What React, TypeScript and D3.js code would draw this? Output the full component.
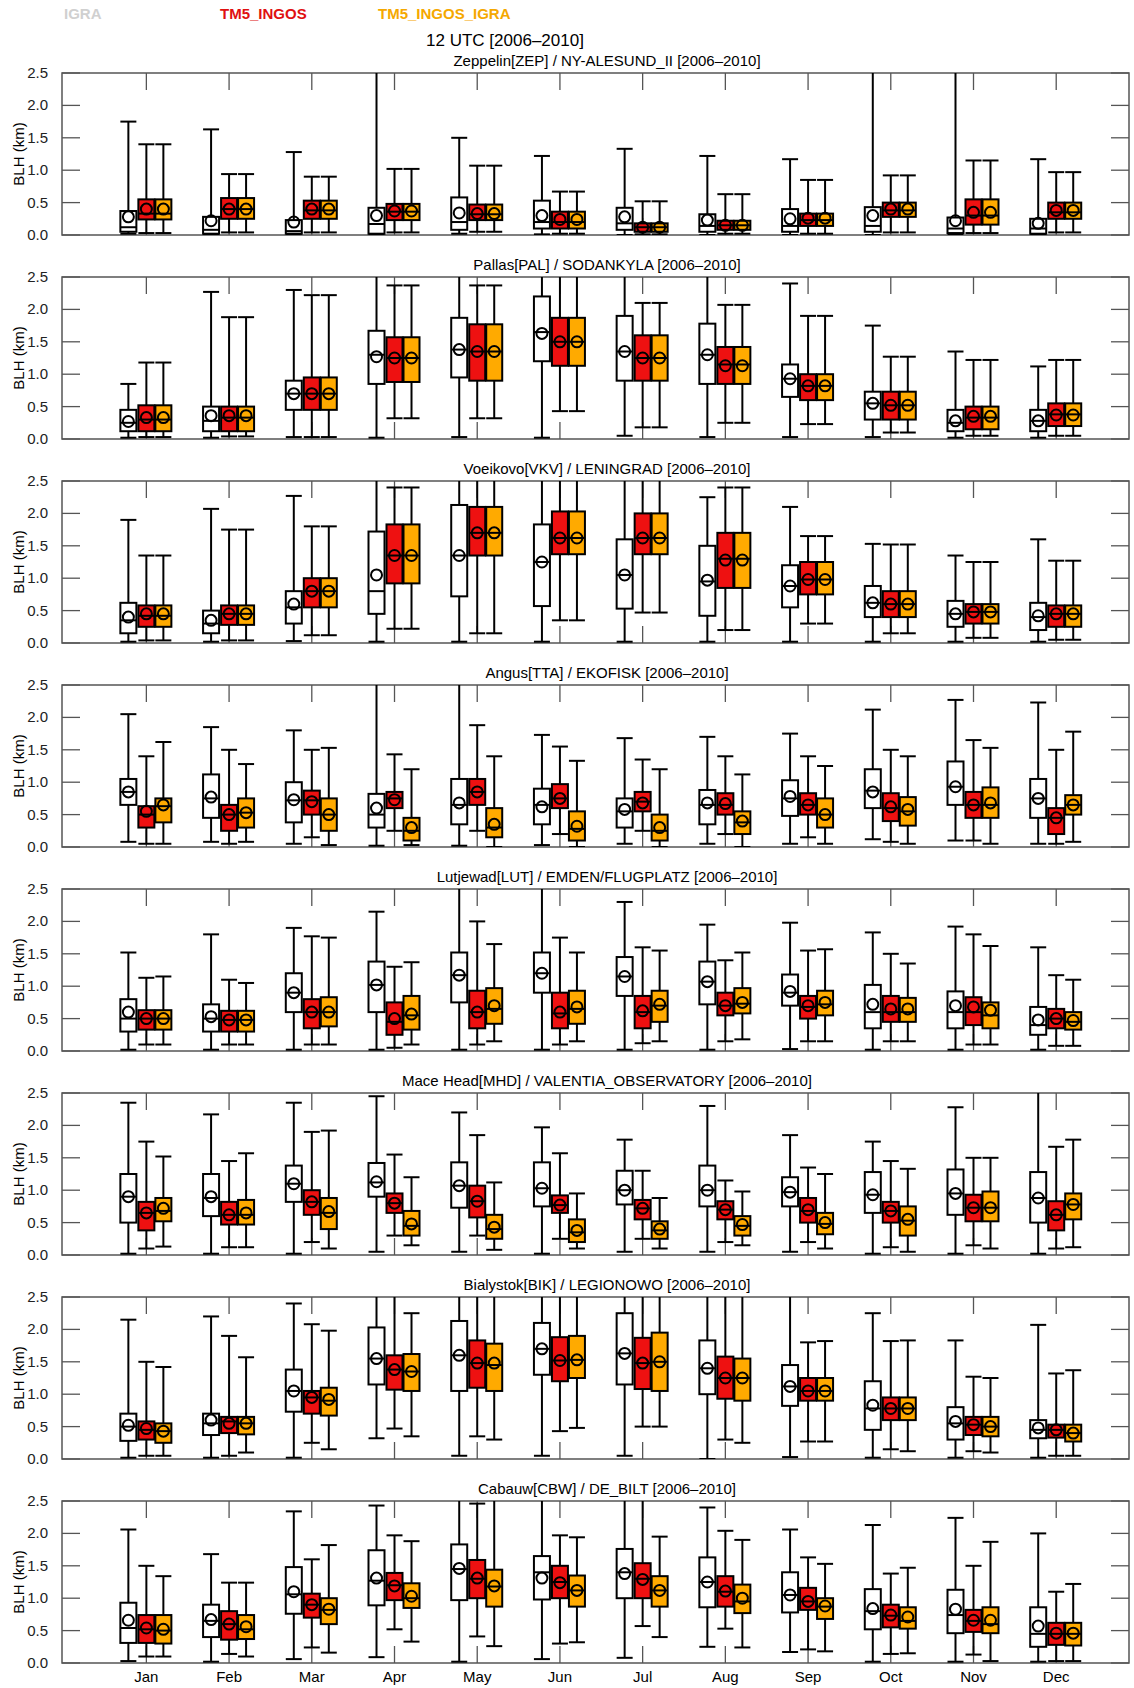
import React, { useEffect, useRef } from 'react'
import * as d3 from 'd3'

// [low whisker, q1, median, q3, high whisker, mean] in km; 3 = beyond 2.5
type Box = [number, number, number, number, number, number]

const months = ['Jan', 'Feb', 'Mar', 'Apr', 'May', 'Jun', 'Jul', 'Aug', 'Sep', 'Oct', 'Nov', 'Dec']
const seriesNames = ['IGRA', 'TM5_INGOS', 'TM5_INGOS_IGRA']
const seriesFill = ['#ffffff', '#ee1111', '#ffaa00']
const legendColor = ['#d0d0d0', '#e01010', '#f5a800']
const yTicks = [0, 0.5, 1.0, 1.5, 2.0, 2.5]

const stations = [
  'Zeppelin[ZEP] / NY-ALESUND_II [2006\u20132010]',
  'Pallas[PAL] / SODANKYLA [2006\u20132010]',
  'Voeikovo[VKV] / LENINGRAD [2006\u20132010]',
  'Angus[TTA] / EKOFISK [2006\u20132010]',
  'Lutjewad[LUT] / EMDEN/FLUGPLATZ [2006\u20132010]',
  'Mace Head[MHD] / VALENTIA_OBSERVATORY [2006\u20132010]',
  'Bialystok[BIK] / LEGIONOWO [2006\u20132010]',
  'Cabauw[CBW] / DE_BILT [2006\u20132010]',
]

const zepIgra: Box[] = [[0.02,0.05,0.12,0.37,1.75,0.28],[0,0.02,0.08,0.28,1.63,0.22],[0,0.02,0.06,0.23,1.28,0.2],[0,0.02,0.17,0.42,3,0.3],[0.02,0.08,0.2,0.58,1.5,0.34],[0.01,0.1,0.2,0.53,1.22,0.3],[0,0.08,0.18,0.42,1.33,0.28],[0,0.05,0.14,0.32,1.22,0.23],[0,0.05,0.14,0.4,1.17,0.25],[0,0.05,0.14,0.43,3,0.3],[0,0.03,0.1,0.27,3,0.22],[0,0.02,0.1,0.25,1.17,0.18]]
const zepIngos: Box[] = [[0.03,0.24,0.33,0.55,1.4,0.4],[0.04,0.25,0.4,0.57,0.94,0.4],[0.04,0.25,0.38,0.53,0.9,0.4],[0.04,0.23,0.36,0.48,1.02,0.37],[0.05,0.23,0.32,0.47,1.07,0.33],[0.02,0.1,0.2,0.36,0.67,0.24],[0.01,0.05,0.12,0.18,0.52,0.12],[0.02,0.08,0.15,0.22,0.63,0.15],[0.02,0.14,0.23,0.33,0.85,0.26],[0.04,0.28,0.38,0.5,0.92,0.4],[0.03,0.16,0.3,0.55,1.15,0.35],[0.04,0.25,0.35,0.5,0.97,0.38]]
const zepIngosIgra: Box[] = [[0.03,0.24,0.33,0.55,1.4,0.4],[0.04,0.25,0.4,0.57,0.94,0.4],[0.04,0.25,0.38,0.53,0.9,0.4],[0.04,0.23,0.36,0.48,1.02,0.37],[0.05,0.23,0.32,0.47,1.07,0.33],[0.02,0.1,0.2,0.36,0.67,0.24],[0.01,0.05,0.12,0.18,0.52,0.12],[0.02,0.08,0.15,0.22,0.63,0.15],[0.02,0.14,0.23,0.33,0.85,0.26],[0.04,0.28,0.38,0.5,0.92,0.4],[0.03,0.16,0.3,0.55,1.15,0.35],[0.04,0.25,0.35,0.5,0.97,0.38]]

const palIgra: Box[] = [[0.02,0.12,0.25,0.45,0.85,0.27],[0.02,0.12,0.28,0.5,2.27,0.36],[0.03,0.45,0.7,0.9,2.3,0.7],[0.02,0.85,1.3,1.67,3,1.27],[0.03,0.95,1.38,1.87,3,1.38],[0.02,1.2,1.65,2.2,3,1.63],[0.05,0.9,1.35,1.9,3,1.35],[0.03,0.85,1.3,1.78,3,1.3],[0.03,0.65,0.93,1.15,2.4,0.93],[0.03,0.3,0.55,0.73,1.75,0.55],[0.02,0.12,0.25,0.45,1.35,0.28],[0.02,0.12,0.28,0.45,1.12,0.28]]
const palIngos: Box[] = [[0.03,0.12,0.3,0.52,1.18,0.33],[0.04,0.12,0.33,0.5,1.88,0.36],[0.03,0.45,0.7,0.95,2.22,0.7],[0.32,0.88,1.25,1.57,2.37,1.25],[0.32,0.9,1.35,1.77,2.37,1.35],[0.43,1.13,1.5,1.87,3,1.5],[0.18,0.9,1.25,1.6,2.1,1.25],[0.25,0.85,1.15,1.42,2.07,1.13],[0.23,0.6,0.82,1.0,1.9,0.82],[0.1,0.3,0.52,0.73,1.27,0.52],[0.05,0.15,0.33,0.5,1.22,0.35],[0.05,0.2,0.38,0.55,1.22,0.37]]
const palIngosIgra: Box[] = [[0.03,0.12,0.3,0.52,1.18,0.33],[0.04,0.12,0.33,0.5,1.88,0.36],[0.03,0.45,0.7,0.95,2.22,0.7],[0.32,0.88,1.25,1.57,2.37,1.25],[0.32,0.9,1.35,1.77,2.37,1.35],[0.43,1.13,1.5,1.87,3,1.5],[0.18,0.9,1.25,1.6,2.1,1.25],[0.25,0.85,1.15,1.42,2.07,1.13],[0.23,0.6,0.82,1.0,1.9,0.82],[0.1,0.3,0.52,0.73,1.27,0.52],[0.05,0.15,0.33,0.5,1.22,0.35],[0.05,0.2,0.38,0.55,1.22,0.37]]

const vkvIgra: Box[] = [[0.02,0.15,0.35,0.62,1.9,0.4],[0.02,0.15,0.3,0.5,2.07,0.35],[0.03,0.3,0.55,0.8,2.27,0.6],[0.02,0.45,0.8,1.72,3,1.05],[0.02,0.72,1.35,2.13,3,1.35],[0.02,0.57,1.25,1.83,3,1.25],[0.02,0.53,1.05,1.6,3,1.05],[0.02,0.42,0.95,1.5,2.25,0.97],[0.02,0.55,0.88,1.2,2.1,0.88],[0.02,0.4,0.62,0.88,1.53,0.62],[0.02,0.25,0.45,0.65,1.35,0.45],[0.02,0.2,0.4,0.62,1.6,0.42]]
const vkvIngos: Box[] = [[0.04,0.25,0.42,0.58,1.35,0.45],[0.04,0.28,0.45,0.58,1.75,0.45],[0.12,0.55,0.8,1.0,1.8,0.8],[0.22,0.92,1.35,1.83,2.4,1.35],[0.15,1.35,1.7,2.1,3,1.7],[0.35,1.37,1.62,2.03,3,1.62],[0.47,1.37,1.62,2.0,3,1.62],[0.2,0.85,1.3,1.7,2.4,1.28],[0.3,0.75,0.98,1.25,1.65,0.98],[0.15,0.4,0.6,0.8,1.52,0.6],[0.08,0.3,0.48,0.6,1.25,0.48],[0.05,0.25,0.45,0.58,1.27,0.45]]
const vkvIngosIgra: Box[] = [[0.04,0.25,0.42,0.58,1.35,0.45],[0.04,0.28,0.45,0.58,1.75,0.45],[0.12,0.55,0.8,1.0,1.8,0.8],[0.22,0.92,1.35,1.83,2.4,1.35],[0.15,1.35,1.7,2.1,3,1.7],[0.35,1.37,1.62,2.03,3,1.62],[0.47,1.37,1.62,2.0,3,1.62],[0.2,0.85,1.3,1.7,2.4,1.28],[0.3,0.75,0.98,1.25,1.65,0.98],[0.15,0.4,0.6,0.8,1.52,0.6],[0.08,0.3,0.48,0.6,1.25,0.48],[0.05,0.25,0.45,0.58,1.27,0.45]]

const ttaIgra: Box[] = [[0.08,0.65,0.85,1.05,2.05,0.85],[0.08,0.45,0.75,1.12,1.85,0.77],[0.05,0.38,0.72,1.0,1.8,0.73],[0.02,0.3,0.5,0.82,3,0.6],[0.02,0.35,0.65,1.05,3,0.68],[0.03,0.35,0.65,0.9,1.73,0.62],[0.05,0.3,0.55,0.75,1.68,0.58],[0.05,0.35,0.65,0.88,1.7,0.68],[0.05,0.48,0.75,1.03,1.75,0.78],[0.12,0.6,0.87,1.2,2.12,0.85],[0.1,0.65,0.93,1.32,2.27,0.93],[0.05,0.45,0.75,1.05,2.23,0.75]]
const ttaIngos: Box[] = [[0.05,0.3,0.5,0.63,1.4,0.55],[0.05,0.25,0.5,0.65,1.5,0.5],[0.15,0.5,0.72,0.87,1.5,0.7],[0.25,0.6,0.75,0.85,1.43,0.73],[0.25,0.65,0.85,1.05,1.88,0.85],[0.2,0.6,0.75,0.97,1.55,0.75],[0.25,0.55,0.7,0.85,1.35,0.68],[0.2,0.5,0.65,0.83,1.4,0.67],[0.15,0.5,0.65,0.83,1.4,0.65],[0.08,0.4,0.6,0.83,1.5,0.62],[0.1,0.45,0.65,0.85,1.65,0.65],[0.05,0.2,0.45,0.6,1.5,0.45]]
const ttaIngosIgra: Box[] = [[0.05,0.38,0.63,0.75,1.62,0.65],[0.08,0.3,0.53,0.75,1.28,0.53],[0.03,0.25,0.5,0.75,1.53,0.5],[0.03,0.1,0.25,0.45,1.2,0.3],[0.0,0.15,0.3,0.6,1.4,0.35],[0.0,0.1,0.28,0.55,1.33,0.32],[0.0,0.1,0.25,0.5,1.2,0.3],[0.0,0.2,0.38,0.55,1.12,0.4],[0.05,0.3,0.5,0.75,1.25,0.5],[0.05,0.33,0.55,0.77,1.4,0.58],[0.05,0.45,0.65,0.92,1.53,0.68],[0.08,0.5,0.65,0.8,1.78,0.65]]

const lutIgra: Box[] = [[0.02,0.3,0.5,0.8,1.52,0.6],[0.02,0.3,0.5,0.72,1.8,0.53],[0.02,0.6,0.9,1.2,1.9,0.9],[0.02,0.6,1.02,1.38,2.15,1.02],[0.02,0.75,1.17,1.52,3,1.17],[0.02,0.9,1.2,1.52,3,1.2],[0.02,0.85,1.15,1.45,2.3,1.15],[0.02,0.72,1.07,1.38,1.95,1.07],[0.03,0.7,0.9,1.18,1.98,0.92],[0.02,0.35,0.6,1.02,1.83,0.72],[0.02,0.35,0.6,0.92,1.92,0.7],[0.02,0.25,0.4,0.68,1.6,0.48]]
const lutIngos: Box[] = [[0.1,0.33,0.5,0.63,1.13,0.5],[0.1,0.3,0.48,0.62,1.1,0.48],[0.1,0.35,0.6,0.8,1.77,0.6],[0.05,0.25,0.45,0.75,1.3,0.5],[0.1,0.35,0.6,0.93,2.0,0.6],[0.1,0.35,0.58,0.9,1.75,0.6],[0.12,0.35,0.6,0.85,1.6,0.62],[0.15,0.55,0.7,0.9,1.4,0.7],[0.15,0.5,0.68,0.85,1.55,0.7],[0.15,0.45,0.6,0.85,1.5,0.65],[0.1,0.4,0.6,0.83,1.8,0.68],[0.08,0.35,0.5,0.65,1.17,0.5]]
const lutIngosIgra: Box[] = [[0.1,0.33,0.5,0.63,1.15,0.5],[0.1,0.3,0.48,0.62,1.05,0.48],[0.1,0.38,0.6,0.83,1.75,0.6],[0.1,0.33,0.55,0.85,1.37,0.57],[0.15,0.42,0.65,0.97,1.65,0.7],[0.15,0.42,0.65,0.93,1.52,0.68],[0.15,0.45,0.7,0.93,1.55,0.72],[0.18,0.58,0.73,0.97,1.52,0.75],[0.15,0.55,0.72,0.93,1.57,0.75],[0.15,0.45,0.6,0.82,1.35,0.65],[0.1,0.35,0.55,0.75,1.62,0.63],[0.08,0.33,0.45,0.6,1.1,0.47]]

const mhdIgra: Box[] = [[0.02,0.5,0.9,1.25,2.35,0.9],[0.02,0.6,0.88,1.25,2.17,0.9],[0.02,0.82,1.1,1.38,2.35,1.1],[0.05,0.9,1.12,1.42,2.45,1.13],[0.05,0.73,1.07,1.43,2.2,1.07],[0.02,0.75,1.03,1.43,1.97,1.03],[0.05,0.78,1.0,1.3,1.78,1.0],[0.05,0.75,1.0,1.38,2.3,1.0],[0.05,0.75,0.97,1.2,1.85,0.97],[0.02,0.65,0.93,1.28,1.75,0.93],[0.02,0.62,0.95,1.32,2.28,0.95],[0.02,0.5,0.88,1.28,3,0.88]]
const mhdIngos: Box[] = [[0.1,0.38,0.65,0.82,1.75,0.65],[0.12,0.47,0.62,0.82,1.45,0.62],[0.2,0.62,0.82,1.0,1.9,0.82],[0.3,0.65,0.8,0.95,1.55,0.8],[0.3,0.58,0.83,1.07,1.85,0.83],[0.25,0.65,0.77,0.92,1.57,0.77],[0.25,0.55,0.72,0.85,1.3,0.72],[0.2,0.55,0.7,0.83,1.15,0.7],[0.2,0.5,0.68,0.88,1.35,0.7],[0.12,0.5,0.68,0.82,1.45,0.68],[0.15,0.52,0.73,0.93,1.5,0.73],[0.1,0.38,0.62,0.83,1.67,0.62]]
const mhdIngosIgra: Box[] = [[0.13,0.52,0.68,0.88,1.52,0.72],[0.12,0.47,0.62,0.85,1.57,0.65],[0.1,0.4,0.65,0.88,1.92,0.67],[0.15,0.3,0.45,0.68,1.2,0.48],[0.08,0.25,0.4,0.62,1.12,0.43],[0.1,0.2,0.35,0.55,0.95,0.38],[0.1,0.25,0.38,0.52,0.88,0.4],[0.15,0.3,0.45,0.6,0.98,0.47],[0.1,0.32,0.48,0.65,1.25,0.5],[0.05,0.3,0.53,0.75,1.33,0.55],[0.1,0.52,0.73,0.98,1.5,0.73],[0.12,0.55,0.78,0.95,1.78,0.78]]

const bikIgra: Box[] = [[0.02,0.28,0.5,0.7,2.15,0.52],[0.02,0.37,0.55,0.7,2.2,0.6],[0.02,0.73,1.05,1.38,2.4,1.05],[0.32,1.15,1.55,2.03,3,1.55],[0.05,1.05,1.6,2.13,3,1.6],[0.05,1.3,1.7,2.1,3,1.7],[0.05,1.15,1.63,2.25,3,1.63],[0.0,1.0,1.4,1.83,3,1.4],[0.03,0.82,1.12,1.45,3,1.12],[0.02,0.45,0.78,1.2,2.25,0.83],[0.02,0.3,0.55,0.8,1.83,0.58],[0.02,0.32,0.45,0.6,2.07,0.48]]
const bikIngos: Box[] = [[0.05,0.3,0.45,0.58,1.5,0.47],[0.05,0.4,0.58,0.65,1.9,0.55],[0.25,0.7,0.95,1.05,2.08,0.95],[0.47,1.07,1.38,1.6,3,1.38],[0.35,1.1,1.48,1.83,3,1.48],[0.43,1.2,1.52,1.88,3,1.52],[0.5,1.08,1.48,1.87,3,1.48],[0.3,0.93,1.25,1.58,3,1.25],[0.27,0.9,1.05,1.25,1.8,1.05],[0.15,0.6,0.78,0.95,1.82,0.78],[0.12,0.37,0.53,0.65,1.27,0.53],[0.05,0.33,0.45,0.53,1.32,0.45]]
const bikIngosIgra: Box[] = [[0.05,0.25,0.43,0.55,1.42,0.43],[0.1,0.38,0.55,0.65,1.57,0.55],[0.15,0.67,0.9,1.1,1.98,0.92],[0.35,1.05,1.35,1.62,2.25,1.35],[0.3,1.05,1.45,1.78,3,1.48],[0.48,1.25,1.53,1.9,3,1.53],[0.5,1.05,1.5,1.95,3,1.5],[0.25,0.9,1.25,1.55,3,1.25],[0.27,0.9,1.05,1.25,1.82,1.05],[0.12,0.6,0.78,0.95,1.83,0.78],[0.1,0.35,0.5,0.65,1.25,0.5],[0.05,0.27,0.4,0.53,1.37,0.4]]

const cbwIgra: Box[] = [[0.03,0.31,0.54,0.93,2.06,0.66],[0.02,0.4,0.65,0.9,1.68,0.67],[0.06,0.76,1.06,1.48,2.34,1.1],[0.09,0.89,1.27,1.74,2.43,1.31],[0.02,0.97,1.45,1.83,3,1.46],[0.06,0.98,1.4,1.65,3,1.31],[0.08,1.0,1.4,1.76,3,1.38],[0.25,0.86,1.25,1.63,2.4,1.25],[0.17,0.78,1.05,1.4,2.06,1.05],[0.02,0.52,0.8,1.14,2.13,0.84],[0.02,0.46,0.74,1.13,2.24,0.83],[0.02,0.25,0.45,0.86,2.0,0.57]]
const cbwIngos: Box[] = [[0.1,0.31,0.52,0.74,1.5,0.54],[0.14,0.36,0.6,0.8,1.24,0.6],[0.24,0.7,0.9,1.07,1.6,0.9],[0.52,0.97,1.2,1.39,1.97,1.19],[0.41,1.0,1.3,1.59,2.46,1.31],[0.3,1.0,1.25,1.5,1.97,1.24],[0.57,1.0,1.3,1.54,3,1.29],[0.53,0.87,1.1,1.34,2.04,1.11],[0.21,0.82,0.95,1.16,1.63,0.95],[0.14,0.55,0.73,0.9,1.38,0.74],[0.13,0.48,0.65,0.82,1.5,0.66],[0.03,0.28,0.45,0.62,1.1,0.46]]
const cbwIngosIgra: Box[] = [[0.1,0.3,0.5,0.74,1.34,0.52],[0.1,0.37,0.52,0.74,1.24,0.56],[0.16,0.6,0.82,1.0,1.82,0.83],[0.33,0.85,1.0,1.23,1.88,1.03],[0.26,0.87,1.18,1.44,3,1.19],[0.32,0.87,1.12,1.35,1.94,1.12],[0.4,0.87,1.12,1.34,1.95,1.12],[0.24,0.77,0.95,1.21,1.9,1.0],[0.18,0.68,0.87,1.0,1.53,0.88],[0.15,0.53,0.65,0.86,1.47,0.71],[0.03,0.46,0.6,0.86,1.87,0.66],[0.03,0.27,0.45,0.62,1.22,0.46]]

const panelData: Box[][][] = [
  [zepIgra, zepIngos, zepIngosIgra],
  [palIgra, palIngos, palIngosIgra],
  [vkvIgra, vkvIngos, vkvIngosIgra],
  [ttaIgra, ttaIngos, ttaIngosIgra],
  [lutIgra, lutIngos, lutIngosIgra],
  [mhdIgra, mhdIngos, mhdIngosIgra],
  [bikIgra, bikIngos, bikIngosIgra],
  [cbwIgra, cbwIngos, cbwIngosIgra],
]

const W = 1134
const H = 1688
const left = 62
const right = 1129
const top0 = 73
const panelH = 162
const panelStep = 204
const boxW = 16
const offsets = [-18, 0, 17]
const font = '"Liberation Sans", Arial, sans-serif'

export default function App() {
  const svgRef = useRef<SVGSVGElement | null>(null)

  useEffect(() => {
    const svg = d3.select(svgRef.current)
    svg.selectAll('*').remove()
    svg.append('rect').attr('width', W).attr('height', H).attr('fill', '#fff')

    // month positions: Jan at 1, Dec at 12
    const x = d3.scaleLinear().domain([0, 12.9]).range([left, right])
    const xm = (i: number) => x(i + 1.02)

    // legend + title
    seriesNames.forEach((n, i) => {
      svg.append('text').attr('x', [64, 220, 378][i]).attr('y', 19)
        .attr('font-family', font).attr('font-weight', 'bold').attr('font-size', 15)
        .attr('fill', legendColor[i]).text(n)
    })
    svg.append('text').attr('x', 505).attr('y', 46).attr('text-anchor', 'middle')
      .attr('font-family', font).attr('font-size', 17).text('12 UTC  [2006\u20132010]')

    const defs = svg.append('defs')

    panelData.forEach((series, p) => {
      const top = top0 + p * panelStep
      const y = d3.scaleLinear().domain([0, 2.5]).range([top + panelH, top])
      const g = svg.append('g')
      const clipId = `clip${p}`
      defs.append('clipPath').attr('id', clipId).append('rect')
        .attr('x', left).attr('y', top).attr('width', right - left).attr('height', panelH)

      g.append('text').attr('x', 607).attr('y', top - 7).attr('text-anchor', 'middle')
        .attr('font-family', font).attr('font-size', 15).text(stations[p])

      // y axis labels + ticks
      yTicks.forEach(t => {
        g.append('text').attr('x', left - 14).attr('y', y(t) + 5).attr('text-anchor', 'end')
          .attr('font-family', font).attr('font-size', 15).attr('fill', '#222').text(t.toFixed(1))
        g.append('line').attr('x1', left).attr('x2', left + 18).attr('y1', y(t)).attr('y2', y(t))
          .attr('stroke', '#555').attr('stroke-width', 1.3)
        g.append('line').attr('x1', right - 18).attr('x2', right).attr('y1', y(t)).attr('y2', y(t))
          .attr('stroke', '#555').attr('stroke-width', 1.3)
      })
      months.forEach((_, i) => {
        g.append('line').attr('x1', xm(i)).attr('x2', xm(i)).attr('y1', top).attr('y2', top + 17)
          .attr('stroke', '#555').attr('stroke-width', 1.3)
        g.append('line').attr('x1', xm(i)).attr('x2', xm(i)).attr('y1', top + panelH).attr('y2', top + panelH - 17)
          .attr('stroke', '#555').attr('stroke-width', 1.3)
      })
      g.append('rect').attr('x', left).attr('y', top).attr('width', right - left).attr('height', panelH)
        .attr('fill', 'none').attr('stroke', '#555').attr('stroke-width', 1.5)

      g.append('text').attr('transform', `translate(24,${top + panelH / 2}) rotate(-90)`)
        .attr('text-anchor', 'middle').attr('font-family', font).attr('font-size', 15)
        .text('BLH  (km)')

      const bg = g.append('g').attr('clip-path', `url(#${clipId})`)
      series.forEach((boxes, s) => {
        boxes.forEach((b, i) => {
          const cx = xm(i) + offsets[s]
          const [lo, q1, med, q3, hi, mean] = b
          const line = (x1: number, y1: number, x2: number, y2: number) =>
            bg.append('line').attr('x1', x1).attr('y1', y1).attr('x2', x2).attr('y2', y2)
              .attr('stroke', '#000').attr('stroke-width', 2)
          line(cx, y(hi), cx, y(q3))
          line(cx, y(q1), cx, y(lo))
          line(cx - boxW / 2, y(hi), cx + boxW / 2, y(hi))
          line(cx - boxW / 2, y(lo), cx + boxW / 2, y(lo))
          bg.append('rect').attr('x', cx - boxW / 2).attr('y', y(q3)).attr('width', boxW)
            .attr('height', y(q1) - y(q3)).attr('fill', seriesFill[s])
            .attr('stroke', '#000').attr('stroke-width', 2)
          line(cx - boxW / 2, y(med), cx + boxW / 2, y(med))
          bg.append('circle').attr('cx', cx).attr('cy', y(mean)).attr('r', 5.5)
            .attr('fill', 'none').attr('stroke', '#000').attr('stroke-width', 2)
        })
      })

      if (p === panelData.length - 1) {
        months.forEach((m, i) => {
          g.append('text').attr('x', xm(i)).attr('y', top + panelH + 19).attr('text-anchor', 'middle')
            .attr('font-family', font).attr('font-size', 15).text(m)
        })
      }
    })
  }, [])

  return (
    <svg ref={svgRef} width={W} height={H} style={{ display: 'block', position: 'absolute', left: 0, top: 0 }} />
  )
}
